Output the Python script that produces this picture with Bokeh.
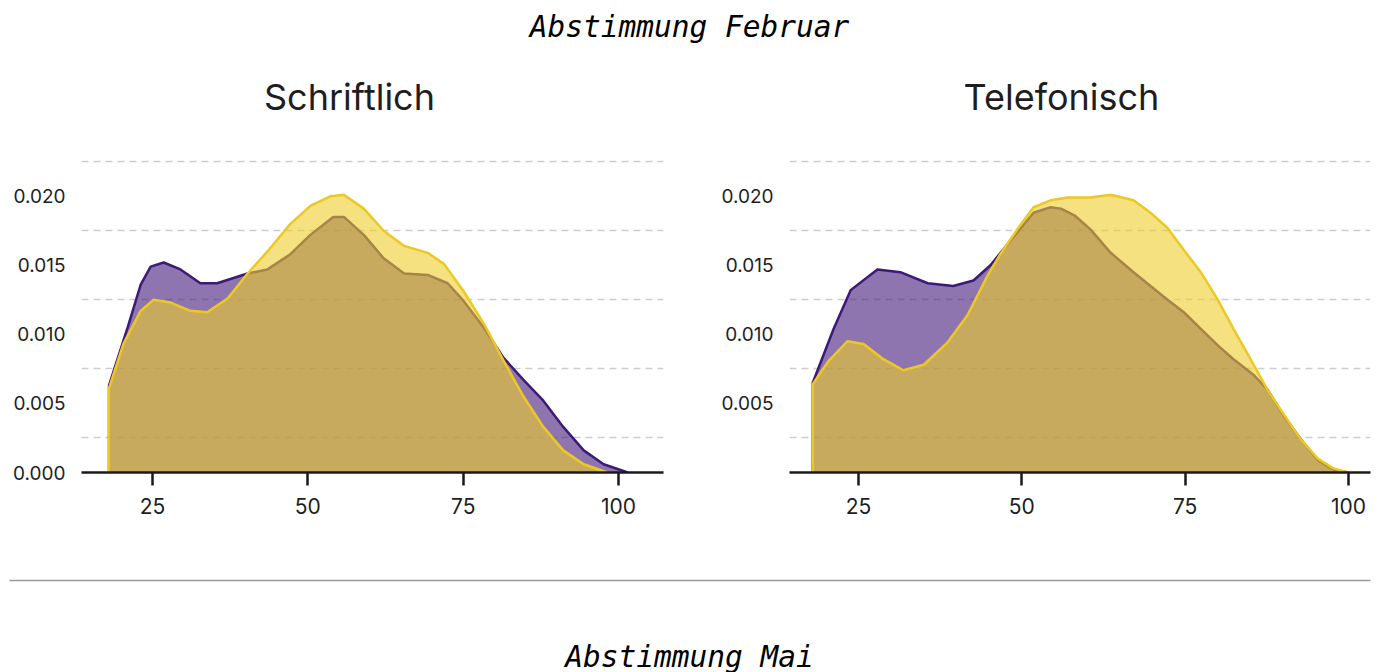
from bokeh.plotting import figure
from bokeh.layouts import column, row
from bokeh.models import Range1d, FixedTicker, PrintfTickFormatter
from bokeh.embed import file_html
from bokeh.resources import INLINE
from bokeh.core.properties import value

# ---------------- data ----------------
main_title = "Abstimmung Februar"
next_title = "Abstimmung Mai"
panel_titles = ["Schriftlich", "Telefonisch"]

x_ticks = [25, 50, 75, 100]
y_ticks_left = [0.0, 0.005, 0.010, 0.015, 0.020]
y_ticks_right = [0.005, 0.010, 0.015, 0.020]
grid_ticks = [0.0025, 0.0075, 0.0125, 0.0175, 0.0225]

# Schriftlich
s_purple_x = [18, 21, 23.1, 24.7, 26.8, 29.5, 32.7, 35.4, 40.3, 43.5, 47.2, 50.4, 54.1, 55.8,
              59, 62.2, 65.5, 69.3, 72.5, 75.1, 78.3, 81.5, 84.7, 87.9, 91.1, 94.4, 97.6, 101.5]
s_purple_y = [0.0063, 0.0105, 0.0136, 0.0149, 0.0152, 0.0147, 0.0137, 0.0137, 0.0144, 0.0147,
              0.0158, 0.0172, 0.0185, 0.0185, 0.0172, 0.0155, 0.0144, 0.0143, 0.0137, 0.0124,
              0.0105, 0.0083, 0.0067, 0.0052, 0.0033, 0.0016, 0.0006, 0.0]
s_yellow_x = [18, 20.3, 23.1, 25.2, 27.9, 31.1, 33.8, 37.1, 40.3, 43.5, 47.2, 50.4, 53.7, 55.8,
              59, 62.2, 65.5, 69.3, 71.9, 75.1, 78.3, 81.5, 84.7, 87.9, 91.1, 94.4, 98.2]
s_yellow_y = [0.0061, 0.0093, 0.0117, 0.0125, 0.0123, 0.0117, 0.0116, 0.0126, 0.0144, 0.0160,
              0.0180, 0.0193, 0.0200, 0.0201, 0.0191, 0.0175, 0.0164, 0.0159, 0.0151, 0.0131,
              0.0108, 0.0081, 0.0055, 0.0033, 0.0016, 0.0006, 0.0]

# Telefonisch
t_purple_x = [18, 21.2, 23.8, 27.9, 31.4, 35.6, 39.5, 42.6, 45.2, 48.3, 51.8, 54.4, 56, 58.1,
              60.5, 63.6, 67.1, 69.7, 72.3, 74.8, 77.4, 80, 82.4, 85.4, 87.6, 90.1, 92.7, 95.3,
              97.7, 100]
t_purple_y = [0.0065, 0.0104, 0.0132, 0.0147, 0.0145, 0.0137, 0.0135, 0.0139, 0.0150, 0.0168,
              0.0188, 0.0192, 0.0191, 0.0186, 0.0176, 0.0159, 0.0145, 0.0135, 0.0125, 0.0116,
              0.0104, 0.0092, 0.0082, 0.0071, 0.0060, 0.0041, 0.0024, 0.0009, 0.0002, 0.0]
t_yellow_x = [18, 20.3, 23.3, 25.8, 28.8, 31.9, 35, 38.6, 41.7, 44.7, 46.7, 49.3, 51.8, 54.4,
              57, 60.5, 63.6, 67.1, 69.7, 72.3, 74.8, 77.4, 80, 82.4, 85, 87.6, 90.1, 92.7,
              95.3, 97.7, 100]
t_yellow_y = [0.0064, 0.0080, 0.0095, 0.0093, 0.0082, 0.0074, 0.0078, 0.0094, 0.0114, 0.0142,
              0.0158, 0.0176, 0.0192, 0.0197, 0.0199, 0.0199, 0.0201, 0.0197, 0.0188, 0.0177,
              0.0161, 0.0145, 0.0125, 0.0104, 0.0082, 0.0060, 0.0042, 0.0024, 0.0010, 0.0003,
              0.0]

# ---------------- style ----------------
FONT = "Inter"
MONO = "DejaVu Sans Mono"
PURPLE_LINE = "#3b1a78"
PURPLE_FILL = "#45197b"
YELLOW_LINE = "#ebc925"
YELLOW_FILL = "#eecd2a"
FILL_ALPHA = 0.6
TEXT = "#1e1e1e"
PANEL_H = 420
FRAME_H = 317


def make_panel(width, xr, yticks, left, right, top, series):
    p = figure(width=width, height=PANEL_H,
               x_range=Range1d(*xr), y_range=Range1d(0, 0.0228),
               output_backend="svg", toolbar_location=None,
               min_border_left=left, min_border_right=right,
               min_border_top=top, min_border_bottom=PANEL_H - top - FRAME_H)
    p.outline_line_color = None
    p.background_fill_color = "white"
    p.border_fill_color = "white"
    p.xgrid.visible = False
    p.ygrid.ticker = FixedTicker(ticks=grid_ticks)
    p.ygrid.grid_line_color = "#cdcdcd"
    p.ygrid.grid_line_dash = "7 5"
    p.ygrid.grid_line_width = 1.3

    for xs, ys, lc, fc in series:
        p.varea(x=xs, y1=[0] * len(xs), y2=ys, fill_color=fc, fill_alpha=FILL_ALPHA)
        p.line(x=[xs[0]] + xs, y=[0] + ys, line_color=lc, line_width=2.5)

    xa = p.xaxis[0]
    xa.ticker = FixedTicker(ticks=x_ticks)
    xa.axis_line_color = "#1a1a1a"
    xa.axis_line_width = 2.5
    xa.major_tick_line_color = "#1a1a1a"
    xa.major_tick_line_width = 2.5
    xa.major_tick_in = 0
    xa.major_tick_out = 13
    xa.minor_tick_line_color = None
    xa.major_label_text_font = FONT
    xa.major_label_text_font_size = "21px"
    xa.major_label_text_color = TEXT
    xa.major_label_standoff = 12

    ya = p.yaxis[0]
    ya.ticker = FixedTicker(ticks=yticks)
    ya.formatter = PrintfTickFormatter(format="%.3f")
    ya.axis_line_color = None
    ya.major_tick_line_color = None
    ya.minor_tick_line_color = None
    ya.major_tick_out = 0
    ya.major_tick_in = 0
    ya.major_label_text_font = FONT
    ya.major_label_text_font_size = "19px"
    ya.major_label_text_color = TEXT
    ya.major_label_standoff = 16
    return p


def text_strip(height, y0, y1):
    p = figure(width=1374, height=height, x_range=Range1d(0, 1374), y_range=Range1d(y1, y0),
               output_backend="svg", toolbar_location=None,
               x_axis_location=None, y_axis_location=None, min_border=0)
    p.outline_line_color = None
    p.grid.visible = False
    return p


header = text_strip(130, 0, 130)
header.text(x=[689], y=[26], text=[main_title], text_font=value(MONO),
            text_font_style="italic", text_font_size="29.5px", text_align="center",
            text_baseline="alphabetic", text_color="black")
header.text(x=[349, 1061], y=[96, 96], text=panel_titles, text_font=value(FONT),
            text_font_size="36px", text_align="center", text_baseline="alphabetic",
            text_color=TEXT)

left = make_panel(700, (13.57, 107.24), y_ticks_left, 81, 37, 27,
                  [(s_purple_x, s_purple_y, PURPLE_LINE, PURPLE_FILL),
                   (s_yellow_x, s_yellow_y, YELLOW_LINE, YELLOW_FILL)])
right = make_panel(674, (14.44, 103.37), y_ticks_right, 89, 4, 25,
                   [(t_purple_x, t_purple_y, PURPLE_LINE, PURPLE_FILL),
                    (t_yellow_x, t_yellow_y, YELLOW_LINE, YELLOW_FILL)])

footer = text_strip(122, 550, 672)
footer.segment(x0=[9], y0=[580], x1=[1370], y1=[580], line_color="#9a9a9a", line_width=1.5)
footer.text(x=[689], y=[656], text=[next_title], text_font=value(MONO),
            text_font_style="italic", text_font_size="29.5px", text_align="center",
            text_baseline="alphabetic", text_color="black")

layout = column(header, row(left, right), footer)
open("out.html", "w").write(file_html(layout, INLINE))
